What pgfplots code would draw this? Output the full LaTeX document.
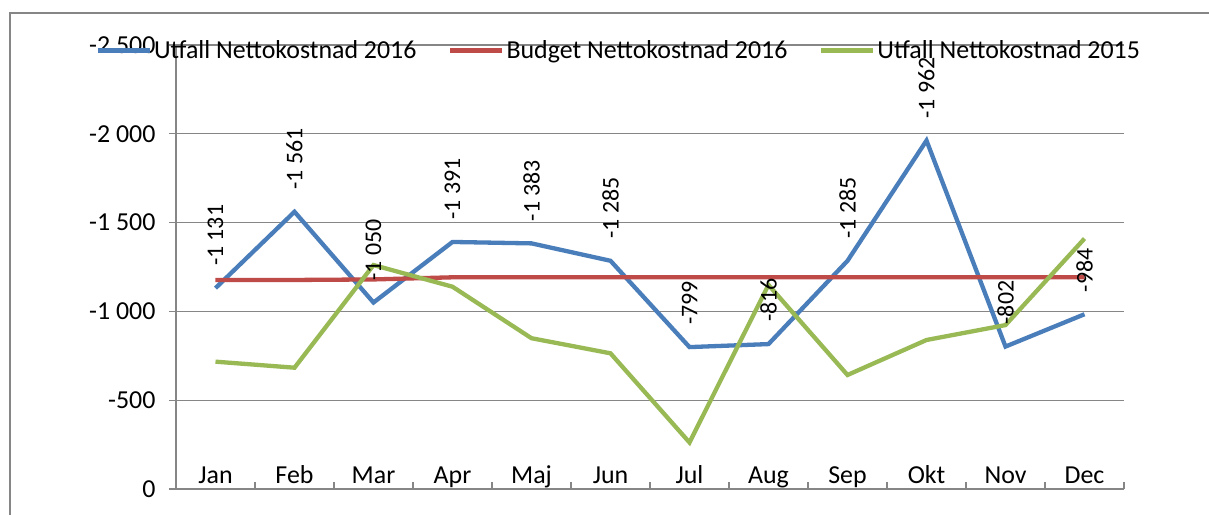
\documentclass[border=0pt]{standalone}
\usepackage{pgfplots}
\pgfplotsset{compat=1.18}
\usepackage{fontspec}
\setmainfont{Carlito}
\definecolor{cblue}{HTML}{4A7EBB}
\definecolor{cred}{HTML}{BE4B48}
\definecolor{cgreen}{HTML}{98B954}
\definecolor{cgrid}{HTML}{868686}
\begin{document}
\begin{tikzpicture}
\fill[white] (-176bp,-26bp) rectangle (1033bp,489bp);
\begin{scope}
\clip (-176bp,-26bp) rectangle (1033bp,489bp);
\draw[cgrid, line width=2bp] (-166bp,476bp) rectangle (1100bp,-100bp);
\end{scope}
\begin{axis}[
  at={(0,0)}, anchor=south west,
  scale only axis, width=948bp, height=444bp,
  xmin=-0.5, xmax=11.5, ymin=-2500, ymax=0, y dir=reverse,
  axis x line*=bottom, axis y line*=left,
  axis line style={cgrid, line width=1.3bp},
  xtick={0,...,11},
  xticklabels={Jan,Feb,Mar,Apr,Maj,Jun,Jul,Aug,Sep,Okt,Nov,Dec},
  major x tick style={draw=none},
  minor xtick={-0.5,0.5,...,11.5},
  minor x tick style={cgrid, line width=1.3bp},
  minor tick length=7bp, major tick length=7bp,
  tick align=inside,
  ytick={-2500,-2000,-1500,-1000,-500,0},
  ytick style={cgrid, line width=1.3bp, xshift=-7bp},
  ymajorgrids, major grid style={cgrid, line width=1.3bp},
  /pgf/number format/.cd, 1000 sep={\ }, assume math mode=true, /pgfplots/.cd,
  tick label style={font=\fontsize{26}{30}\selectfont, text=black},
  xticklabel style={anchor=base, yshift=6bp},
  yticklabel style={anchor=east, xshift=-17bp},
  legend columns=3,
  legend style={at={(0.4668,0.9887)}, anchor=center, draw=none, fill=none,
    font=\fontsize{26}{30}\selectfont,
    /tikz/every even column/.append style={column sep=29bp},
    inner sep=0pt, nodes={inner sep=2bp}},
  legend image code/.code={\draw[#1, line width=5bp] (0bp,0bp) -- (52bp,0bp);},
]
\addplot[cblue, line width=4.3bp, nodes near coords,
  every node near coord/.style={rotate=90, anchor=west, inner xsep=20bp, font=\fontsize{24}{28}\selectfont, text=black}]
  coordinates {(0,-1131)(1,-1561)(2,-1050)(3,-1391)(4,-1383)(5,-1285)(6,-799)(7,-816)(8,-1285)(9,-1962)(10,-802)(11,-984)};
\addlegendentry{Utfall Nettokostnad 2016}
\addplot[cred, line width=4.3bp]
  coordinates {(0,-1177)(1,-1177)(2,-1180)(3,-1192)(4,-1192)(5,-1192)(6,-1192)(7,-1192)(8,-1192)(9,-1192)(10,-1192)(11,-1192)};
\addlegendentry{Budget Nettokostnad 2016}
\addplot[cgreen, line width=4.3bp]
  coordinates {(0,-717)(1,-683)(2,-1261)(3,-1139)(4,-849)(5,-764)(6,-262)(7,-1149)(8,-642)(9,-839)(10,-923)(11,-1410)};
\addlegendentry{Utfall Nettokostnad 2015}
\end{axis}
\pgfresetboundingbox
\useasboundingbox (-176bp,-26bp) rectangle (1033bp,489bp);
\end{tikzpicture}
\end{document}
